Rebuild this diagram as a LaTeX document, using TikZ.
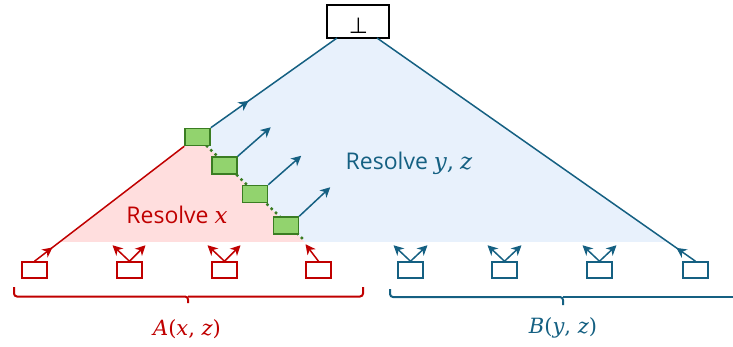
\documentclass[tikz,border=0pt]{standalone}
\usepackage{fontspec}
\setsansfont{Open Sans}
\newfontfamily\symfont{DejaVu Sans}
\newfontfamily\serfont{DejaVu Serif}
\usetikzlibrary{arrows.meta,decorations.markings,backgrounds}
\definecolor{cred}{HTML}{C00000}
\definecolor{cblue}{HTML}{156082}
\definecolor{cgreen}{HTML}{92D36E}
\definecolor{cgdark}{HTML}{3A7D22}
\definecolor{cpink}{HTML}{FFDEDE}
\definecolor{clblue}{HTML}{E8F1FC}
\newcommand{\mi}[1]{{\serfont\itshape #1}}
\begin{document}
\begin{tikzpicture}[x=1pt,y=-1pt,
 leaf/.style={draw,line width=1.5pt,fill=white,minimum width=25pt,minimum height=16pt,inner sep=0pt},
 gbox/.style={draw=cgdark,fill=cgreen,line width=1.5pt,minimum width=25pt,minimum height=17pt,inner sep=0pt},
 arr/.style={-{Stealth[length=10pt,width=10pt,inset=3pt]},line width=1.5pt},
 midarr/.style={postaction={decorate},decoration={markings,mark=at position #1 with {\arrow{Stealth[length=10pt,width=10pt,inset=3pt]}}}},
 bracestyle/.style={line width=2pt,rounded corners=3pt},
 conn/.style={line width=1.5pt}]
\useasboundingbox (0,0) rectangle (733,347);

% top node
\node[draw,line width=1.5pt,fill=white,minimum width=62pt,minimum height=33pt,inner sep=0pt] (top) at (358,21.5) {};
\node[inner sep=0pt] (bot) at (358.5,25.5) {\symfont\fontsize{22}{22}\selectfont ⊥};
\coordinate (tl) at (337,38);
\coordinate (tr) at (377,38);

% green nodes
\node[gbox] (g1) at (197.5,137) {};
\node[gbox] (g2) at (224.5,165.5) {};
\node[gbox] (g3) at (255,194) {};
\node[gbox] (g4) at (286,225.5) {};
\coordinate (dend) at (304,240);

% leaves
\node[leaf,draw=cred] (l1) at (34.5,270) {};
\node[leaf,draw=cred] (l2) at (129.5,270) {};
\node[leaf,draw=cred] (l3) at (224.5,270) {};
\node[leaf,draw=cred] (l4) at (318.5,270) {};
\node[leaf,draw=cblue] (l5) at (410.5,270) {};
\node[leaf,draw=cblue] (l6) at (504.5,270) {};
\node[leaf,draw=cblue] (l7) at (599.5,270) {};
\node[leaf,draw=cblue] (l8) at (695.5,270) {};

\begin{pgfonlayer}{background}
\fill[clblue] (tl) -- (tr) -- (669,242) -- (305,242) -- (g1.center) -- (g1.north east) -- cycle;
\fill[cpink] (g1.south west) -- (g1.center) -- (305,242) -- (60,242) -- cycle;
\draw[cgdark,line width=2.5pt,dash pattern=on 2.5pt off 3.5pt] (g1.center) -- (dend);
\end{pgfonlayer}

% long connectors
\draw[cred,conn,midarr=0.12] (l1.north) -- (g1.south west);
\draw[cblue,conn,midarr=0.3] (g1.north east) -- (tl);
\draw[cblue,conn,midarr=0.06] (l8.north) -- (tr);

% green outgoing arrows
\draw[cblue,arr] (g2.north east) -- ++(33,-29);
\draw[cblue,arr] (g3.north east) -- ++(33,-29);
\draw[cblue,arr] (g4.north east) -- ++(31,-29);

% leaf arrows
\foreach \n in {l2,l3}{
  \draw[cred,arr] (\n.north) -- ++(-17,-16);
  \draw[cred,arr] (\n.north) -- ++(16,-16);
}
\draw[cred,arr] (l4.north) -- ++(-13,-17);
\foreach \n in {l5,l6,l7}{
  \draw[cblue,arr] (\n.north) -- ++(-17,-16);
  \draw[cblue,arr] (\n.north) -- ++(17,-16);
}

% braces
\draw[bracestyle,cred] (14,287) |- (188,296.5) -- (188,303);
\draw[bracestyle,cred] (363,287) |- (188,296.5);
\draw[bracestyle,cblue] (390,289) |- (563,297) -- (563,305);
\draw[bracestyle,cblue] (733,297) -- (563,297);

% labels
\node[text=cred,inner sep=0pt,font=\serfont\fontsize{21}{21}\selectfont] (la) at (187,329) {\mi{A}(\mi{x}, \mi{z})};
\node[text=cblue,inner sep=0pt,font=\serfont\fontsize{21}{21}\selectfont] (lb) at (563,328) {\mi{B}(\mi{y}, \mi{z})};
\node[text=cred,anchor=base,inner sep=0pt,font=\sffamily\fontsize{23}{23}\selectfont] (rx) at (177,224) {Resolve \mi{x}};
\node[text=cblue,anchor=base,inner sep=0pt,font=\sffamily\fontsize{23}{23}\selectfont] (ryz) at (409,170) {Resolve \mi{y}{\serfont ,} \mi{z}};
\end{tikzpicture}
\end{document}
